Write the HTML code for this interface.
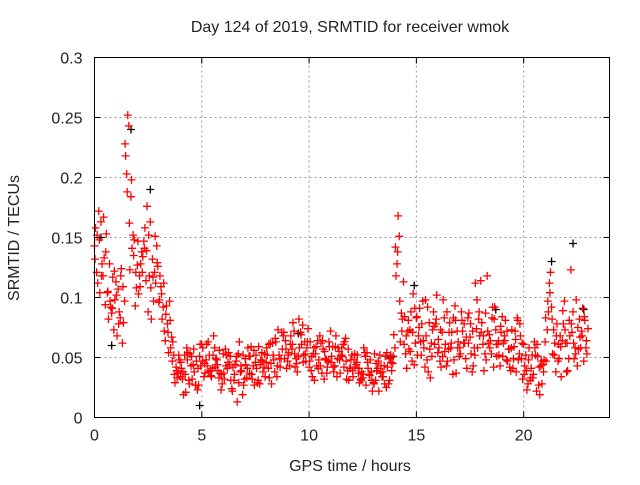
<!DOCTYPE html>
<html><head><meta charset="utf-8"><style>
body{margin:0;background:#fff}
svg text{font-family:"Liberation Sans",sans-serif;font-size:16px;fill:#222}
</style></head><body>
<svg id="chart" width="640" height="480" xmlns="http://www.w3.org/2000/svg">
<rect width="640" height="480" fill="#fff"/>
<g id="grid"></g>
<g id="pts"></g>
<rect x="94.5" y="57.5" width="515" height="360" fill="none" stroke="#000" stroke-width="1"/>
<g id="ticks"></g>
<text x="350" y="32" text-anchor="middle">Day 124 of 2019, SRMTID for receiver wmok</text>
<text x="350" y="471" text-anchor="middle">GPS time / hours</text>
<text transform="translate(19,238) rotate(-90)" text-anchor="middle">SRMTID / TECUs</text>
</svg>
<script>
const xTicks=[0,5,10,15,20];
const yTicks=[0,0.05,0.1,0.15,0.2,0.25,0.3];
const yTickLabels=["0","0.05","0.1","0.15","0.2","0.25","0.3"];
const step=0.2;
const startA=0,startB=0.1,startC=0.05,startD=0.15,startE=0.025,startF=0.125;
const seriesA=[.143,.172,.118,.104,.087,.113,
.083,.097,.243,.152,.127, .138,.114,.163,.121,.096, .092,.078,.067,.042,.034, .052,.031,.044,.023,.061,
.048,.039,.058,.033,.053, .041,.024,.047,.038,.032, .051,.043,.029,.054,.046, .062,.038,.052,.068,.047,
.057,.049,.071,.063,.042, .053,.064,.037,.048,.072, .043,.055,.061,.039,.052, .044,.032,.054,.036,.029,
.041,.034,.025,.052,.058, .151,.113,.072,.047,.083, .063,.042,.079,.088,.054, .071,.043,.058,.093,.051,
.062,.083,.038,.074,.114, .053,.069,.042,.061,.084, .048,.039,.072,.053,.061, .028,.052,.022,.043,.063,
.112,.073,.047,.064,.038, .123,.058,.082,.047,.074];
const seriesB=[.121,.163,.094,.128,.073, .107,.062,.203,.184,.093, .118,.147,.088,.132,.143, .109,.064,.097,.052,.037,
.032,.058,.043,.027,.051, .034,.063,.041,.048,.023, .057,.044,.031,.053,.019, .033,.059,.046,.028,.042,
.041,.062,.034,.049,.064, .043,.072,.051,.077,.058, .039,.053,.068,.032,.047, .059,.034,.052,.066,.041,
.048,.037,.033,.054,.038, .031,.052,.043,.028,.045, .128,.087,.053,.073,.044, .068,.097,.048,.062,.078,
.047,.083,.057,.036,.072, .088,.049,.067,.058,.082, .061,.118,.053,.073,.043, .068,.057,.041,.083,.049,
.052,.031,.063,.027,.044, .073,.092,.038,.068,.097, .049,.088,.043,.072,.058];
const seriesC=[.158,.104,.133,.082,.117, .068,.124,.218,.123,.148, .103,.134,.176,.082,.112, .118,.072,.054,.063,.033,
.041,.021,.053,.038,.027, .058,.043,.034,.049,.037, .032,.054,.042,.013,.039, .044,.051,.027,.059,.038,
.052,.028,.063,.042,.049, .054,.079,.038,.061,.047, .063,.031,.048,.057,.042, .051,.068,.037,.063,.031,
.034,.052,.038,.027,.048, .053,.022,.034,.042,.039, .118,.063,.084,.057,.103, .052,.078,.068,.033,.061,
.058,.098,.047,.071,.037, .053,.062,.087,.043,.058, .079,.048,.064,.092,.052, .062,.047,.073,.038,.068,
.043,.058,.036,.051,.028, .047,.121,.062,.049,.078, .039,.071,.098,.058,.081];
const seriesD=[.112,.128,.153,.092,.098, .088,.079,.252,.141,.108, .128,.158,.118,.097,.126, .082,.093,.058,.029,.048,
.019,.054,.032,.047,.043, .037,.052,.068,.039,.028, .052,.031,.044,.063,.027, .058,.032,.041,.048,.034,
.033,.048,.073,.057,.041, .068,.042,.058,.052,.074, .034,.043,.062,.049,.059, .038,.058,.051,.032,.048,
.042,.029,.058,.041,.022, .039,.043,.051,.031,.069, .168,.082,.041,.088,.062, .091,.058,.038,.073,.102,
.042,.061,.079,.048,.063, .072,.041,.053,.112,.068, .039,.062,.092,.051,.071, .081,.042,.059,.048,.032,
.023,.041,.052,.019,.048, .088,.053,.078,.034,.062, .068,.049,.057,.091,.053];
const seriesE=[.132,.148,.167,.105,.091, .102,.118,.228,.162,.135, .147,.121,.139,.108,.151, .098,.112,.071,.047,.039,
.046,.036,.028,.057,.041, .047,.061,.035,.042,.056, .037,.046,.022,.051,.043, .049,.037,.056,.031,.047,
.058,.045,.066,.049,.071, .052,.061,.045,.069,.053, .047,.058,.041,.064,.037, .046,.059,.048,.042,.057,
.039,.046,.031,.051,.035, .028,.047,.038,.054,.046, .142,.097,.061,.081,.071, .084,.052,.098,.057,.076,
.065,.051,.088,.062,.081, .058,.078,.062,.072,.098, .071,.087,.058,.082,.064, .051,.072,.058,.065,.078,
.036,.048,.033,.061,.047, .083,.104,.052,.061,.089, .062,.078,.053,.067,.084];
const seriesF=[.152,.118,.138,.097,.122, .078,.109,.188,.198,.121, .109,.141,.152,.117,.129, .103,.086,.081,.036,.052,
.038,.048,.051,.027,.061, .045,.038,.052,.044,.036, .043,.051,.036,.029,.052, .041,.036,.052,.044,.053,
.061,.052,.043,.071,.057, .061,.053,.082,.046,.063, .051,.059,.043,.055,.063, .042,.049,.058,.047,.041,
.053,.041,.036,.046,.031, .045,.037,.028,.049,.051, .138,.072,.068,.055,.091, .075,.064,.092,.051,.082,
.073,.055,.071,.083,.058, .081,.067,.078,.052,.088, .068,.072,.083,.061,.076, .064,.057,.049,.081,.062,
.039,.033,.058,.042,.038, .097,.082,.068,.059,.073, .081,.062,.075,.068,.064];
const blackTimes=[0.3,0.8,1.7,2.6,4.9,9.5,13.8,14.9,18.7,21.3,22.3,22.8];
const blackValues=[0.15,0.06,0.24,0.19,0.01,0.07,0.05,0.11,0.09,0.13,0.145,0.09];

const X0=94.5,X1=609.5,Y0=417.5,Y1=57.5,XMAX=24,YMAX=0.3;
const xs=t=>X0+(X1-X0)*t/XMAX;
const ys=v=>Y0-(Y0-Y1)*v/YMAX;
const NS='http://www.w3.org/2000/svg';
const grid=document.getElementById('grid'),ticks=document.getElementById('ticks'),pts=document.getElementById('pts');
function mk(tag,attrs,parent){const e=document.createElementNS(NS,tag);for(const k in attrs)e.setAttribute(k,attrs[k]);parent.appendChild(e);return e;}
xTicks.forEach(t=>{
  const x=xs(t);
  if(t>0){const g=mk('line',{x1:x,x2:x,y1:Y0,y2:Y1,stroke:'#999','stroke-dasharray':'2,3'},grid);
  
  }
  mk('line',{x1:x,x2:x,y1:Y0,y2:Y0-6,stroke:'#000'},ticks);
  mk('line',{x1:x,x2:x,y1:Y1,y2:Y1+6,stroke:'#000'},ticks);
  const l=mk('text',{x:x,y:Y0+23,'text-anchor':'middle'},ticks);l.textContent=String(t);
  
  
});
yTicks.forEach((v,i)=>{
  const y=ys(v);
  if(v>0&&v<YMAX){const g=mk('line',{x1:X0,x2:X1,y1:y,y2:y,stroke:'#999','stroke-dasharray':'2,3'},grid);
  
  }
  mk('line',{x1:X0,x2:X0+6,y1:y,y2:y,stroke:'#000'},ticks);
  mk('line',{x1:X1,x2:X1-6,y1:y,y2:y,stroke:'#000'},ticks);
  const l=mk('text',{x:X0-12,y:y+6,'text-anchor':'end'},ticks);l.textContent=yTickLabels[i];
  
  
});
function plus(t,v,color,name){
  const x=xs(t),y=ys(v);
  const p=mk('path',{d:`M${x-4},${y}h8M${x},${y-4}v8`,stroke:color,'stroke-width':1.3,fill:'none'},pts);
  
  
}
blackTimes.forEach((t,i)=>plus(t,blackValues[i],'#000','black-point'));
[[seriesA,startA],[seriesB,startB],[seriesC,startC],[seriesD,startD],[seriesE,startE],[seriesF,startF]].forEach(([arr,s])=>{
  arr.forEach((v,i)=>plus(s+i*step,v,'#f00','red-point'));
});
</script>
</body></html>
